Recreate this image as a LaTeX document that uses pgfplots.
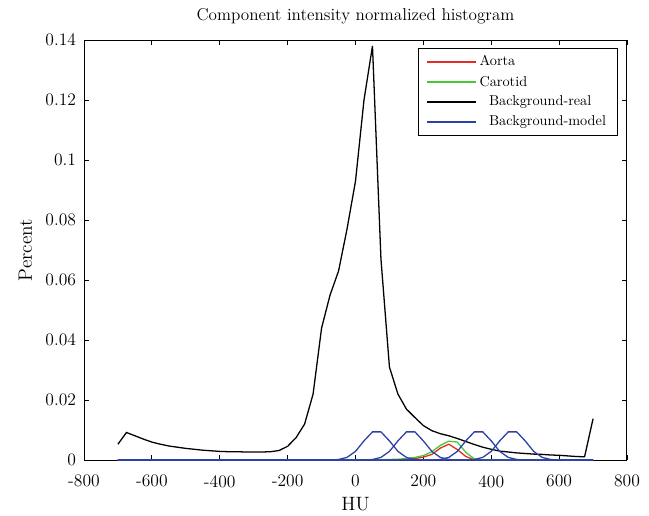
\documentclass[border=0pt]{standalone}
\usepackage{pgfplots}
\pgfplotsset{compat=1.18}
\definecolor{aorta}{RGB}{225,45,35}
\definecolor{carotid}{RGB}{70,200,50}
\definecolor{bgmodel}{RGB}{45,65,165}
\pgfplotsset{legend image code/.code={\draw[#1] (0pt,0pt) -- (34pt,0pt);}}
\begin{document}
\begin{tikzpicture}
\begin{axis}[
  scale only axis,
  width=380pt, height=294pt,
  xmin=-800, xmax=800, ymin=0, ymax=0.14,
  xtick={-800,-600,-400,-200,0,200,400,600,800},
  xticklabels={-800,-600,-400,-200,0,200,400,600,800},
  ytick={0,0.02,0.04,0.06,0.08,0.1,0.12,0.14},
  yticklabels={0,0.02,0.04,0.06,0.08,0.1,0.12,0.14},
  tick pos=both, ticklabel pos=left,
  tick align=inside, major tick length=3.7pt,
  every tick/.style={black, line width=0.6pt},
  axis line style={black, line width=0.7pt},
  tick label style={font=\fontsize{12.3}{14}\selectfont},
  xticklabel style={yshift=-7pt},
  yticklabel style={xshift=-2pt},
  title={Component intensity normalized histogram},
  title style={at={(axis description cs:0.5,1)}, anchor=base, yshift=8pt, font=\large},
  xlabel={HU},
  xlabel style={at={(axis description cs:0.5,0)}, anchor=base, yshift=-35pt, font=\fontsize{13.5}{16}\selectfont},
  ylabel={Percent},
  ylabel style={at={(axis description cs:-0.108,0.5)}, anchor=center, font=\fontsize{13.5}{16}\selectfont},
  legend style={at={(axis description cs:1,1)}, anchor=north east, xshift=-6.3pt, yshift=-5.6pt,
    line width=0.8pt, font=\normalsize, row sep=1.5pt, inner xsep=6pt, inner ysep=3pt},
  legend cell align=left,
]
\addplot[draw=aorta, line width=0.9pt] coordinates {
(-700,0) (100,0) (125,0.0001) (150,0.0002) (175,0.0005) (200,0.0010) (225,0.0019)
(250,0.0040) (275,0.0053) (300,0.0035) (325,0.0012) (350,0.0001) (375,0) (700,0)};
\addlegendentry{Aorta}
\addplot[draw=carotid, line width=0.9pt] coordinates {
(-700,0) (50,0) (75,0.0001) (100,0.0002) (125,0.0003) (150,0.0005) (175,0.0009) (200,0.0015)
(225,0.0028) (250,0.0049) (275,0.0063) (300,0.0060) (325,0.0026) (350,0.0004) (375,0) (700,0)};
\addlegendentry{Carotid}
\addplot[draw=black, line width=0.9pt] coordinates {
(-700,0.0053) (-675,0.0092) (-650,0.0081) (-625,0.0070) (-600,0.0060) (-575,0.0053)
(-550,0.0047) (-525,0.0043) (-500,0.0039) (-475,0.0036) (-450,0.0033) (-425,0.0031)
(-400,0.0029) (-375,0.0028) (-350,0.0028) (-325,0.0027) (-300,0.0027) (-275,0.0027)
(-250,0.0028) (-225,0.0032) (-200,0.0046) (-175,0.0075) (-150,0.0120) (-125,0.0220)
(-100,0.0440) (-75,0.0550) (-50,0.0630) (-25,0.0770) (0,0.0930) (25,0.1200) (50,0.1380)
(75,0.0670) (100,0.0310) (125,0.0220) (150,0.0170) (175,0.0142) (200,0.0115)
(225,0.0098) (250,0.0088) (275,0.0081) (300,0.0072) (325,0.0062) (350,0.0052)
(375,0.0043) (400,0.0036) (425,0.0030) (450,0.0027) (475,0.0024) (500,0.0022)
(525,0.0020) (550,0.0019) (575,0.0017) (600,0.0016) (625,0.0014) (650,0.0012)
(675,0.0011) (700,0.0138)};
\addlegendentry{\ \ Background-real}
\addplot[draw=bgmodel, line width=0.9pt] coordinates {
(-700,0) (-75,0) (-50,0.0002) (-25,0.0009) (0,0.0029) (25,0.0064) (50,0.0094) (75,0.0094)
(100,0.0064) (125,0.0029) (150,0.0009) (175,0.0002) (200,0) (700,0)};
\addlegendentry{\ \ Background-model}
\addplot[draw=bgmodel, line width=0.9pt, forget plot] coordinates {
(-700,0) (25,0) (50,0.0002) (75,0.0009) (100,0.0029) (125,0.0064) (150,0.0094) (175,0.0094)
(200,0.0064) (225,0.0029) (250,0.0009) (275,0.0002) (300,0) (700,0)};
\addplot[draw=bgmodel, line width=0.9pt, forget plot] coordinates {
(-700,0) (225,0) (250,0.0002) (275,0.0009) (300,0.0029) (325,0.0064) (350,0.0094) (375,0.0094)
(400,0.0064) (425,0.0029) (450,0.0009) (475,0.0002) (500,0) (700,0)};
\addplot[draw=bgmodel, line width=0.9pt, forget plot] coordinates {
(-700,0) (325,0) (350,0.0002) (375,0.0009) (400,0.0029) (425,0.0064) (450,0.0094) (475,0.0094)
(500,0.0064) (525,0.0029) (550,0.0009) (575,0.0002) (600,0) (700,0)};
\end{axis}
\path ([xshift=-58.8pt,yshift=-35.7pt]current axis.south west) rectangle ([xshift=15.4pt,yshift=28pt]current axis.north east);
\end{tikzpicture}
\end{document}
